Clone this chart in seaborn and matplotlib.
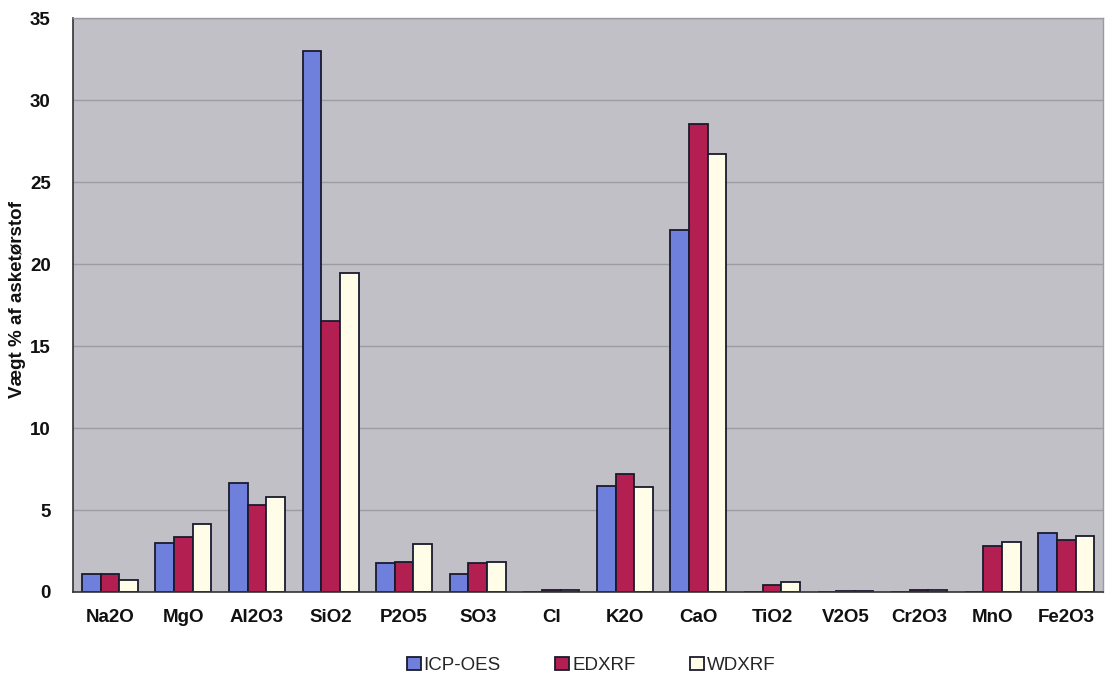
import matplotlib
matplotlib.use("Agg")
import matplotlib.pyplot as plt
import seaborn as sns
import pandas as pd

oxides = ["Na2O", "MgO", "Al2O3", "SiO2", "P2O5", "SO3", "Cl", "K2O",
          "CaO", "TiO2", "V2O5", "Cr2O3", "MnO", "Fe2O3"]
icp_oes = [1.1, 3.0, 6.65, 33.0, 1.77, 1.1, 0.0, 6.45, 22.1, 0.0, 0.0, 0.0, 0.0, 3.6]
edxrf = [1.1, 3.35, 5.3, 16.5, 1.85, 1.75, 0.15, 7.2, 28.55, 0.45, 0.05, 0.15, 2.8, 3.2]
wdxrf = [0.7, 4.15, 5.8, 19.45, 2.9, 1.8, 0.1, 6.4, 26.7, 0.6, 0.05, 0.1, 3.05, 3.4]
methods = ["ICP-OES", "EDXRF", "WDXRF"]
colors = ["#6f7fdc", "#b31f50", "#fffde8"]

df = pd.DataFrame({
    "Oxid": oxides * 3,
    "Metode": [m for m in methods for _ in oxides],
    "Værdi": icp_oes + edxrf + wdxrf,
})

sns.set_theme(style="white")
plt.rcParams["font.family"] = ["Liberation Sans", "DejaVu Sans"]

fig = plt.figure(figsize=(11.07, 6.74), dpi=100)
ax = fig.add_axes([0.066, 0.1217, 0.9304, 0.8513])
ax.set_facecolor("#c0c0c6")

sns.barplot(data=df, x="Oxid", y="Værdi", hue="Metode", order=oxides,
            hue_order=methods, palette=colors, width=0.76, ax=ax,
            edgecolor="#1a1a2e", linewidth=1.3, saturation=1, legend=True)

ax.set_ylim(0, 35)
ax.set_yticks(range(0, 36, 5))
ax.set_xlim(-0.5, len(oxides) - 0.5)
ax.yaxis.grid(True, color="#9c9ca4", linewidth=1.0)
ax.set_axisbelow(True)

for side in ["top", "right"]:
    ax.spines[side].set_color("#9a9aa2")
    ax.spines[side].set_linewidth(1.0)
for side in ["left", "bottom"]:
    ax.spines[side].set_color("#333333")
    ax.spines[side].set_linewidth(1.2)

ax.tick_params(axis="x", length=0, pad=12, labelsize=13.5)
ax.tick_params(axis="y", length=0, pad=16, labelsize=13.5)
for lbl in ax.get_xticklabels() + ax.get_yticklabels():
    lbl.set_fontweight("bold")
    lbl.set_color("#111111")

ax.set_xlabel("")
ax.set_ylabel("")
fig.text(0.016, 0.555, "Vægt % af asketørstof", rotation=90, ha="center",
         va="center", fontsize=13.5, fontweight="bold", color="#111111")

handles, labels = ax.get_legend_handles_labels()
ax.legend_.remove()
fig.legend(handles, labels, loc="lower center", bbox_to_anchor=(0.534, -0.025),
           ncol=3, frameon=False, fontsize=13.5, handlelength=0.75,
           handleheight=0.75, handletextpad=0.15, columnspacing=2.9)

fig.savefig("out.png", dpi=100, facecolor="white")
